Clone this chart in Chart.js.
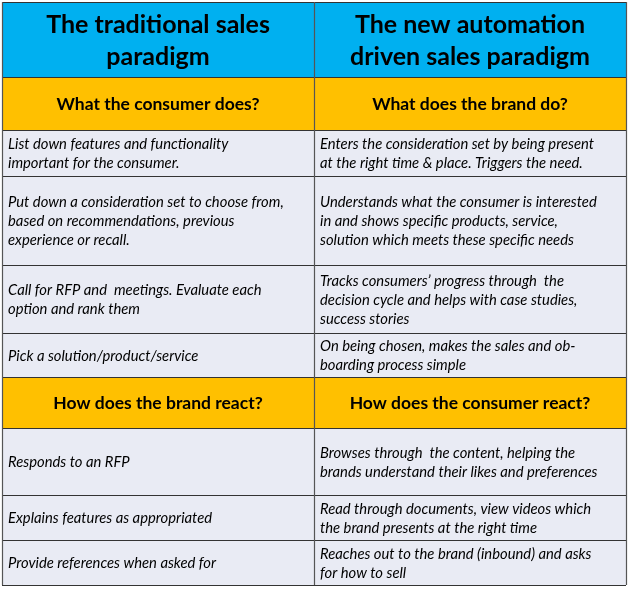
<!DOCTYPE html>
<html><head><meta charset="utf-8">
<script src="https://cdn.jsdelivr.net/npm/chart.js@4/dist/chart.umd.min.js"></script>
<style>html,body{margin:0;padding:0;background:#fff;}canvas{display:block;}</style>
</head><body>
<canvas id="c" width="629" height="592"></canvas>
<script>
// ---- content ----
const titles = [["The traditional sales","paradigm"],["The new automation","driven sales paradigm"]];
const section1 = ["What the consumer does?","What does the brand do?"];
const section2 = ["How does the brand react?","How does the consumer react?"];
const leftCol1 = [
  ["List down features and functionality","important for the consumer."],
  ["Put down a consideration set to choose from,","based on recommendations, previous","experience or recall."],
  ["Call for RFP and  meetings. Evaluate each","option and rank them"],
  ["Pick a solution/product/service"]
];
const rightCol1 = [
  ["Enters the consideration set by being present","at the right time & place. Triggers the need."],
  ["Understands what the consumer is interested","in and shows specific products, service,","solution which meets these specific needs"],
  ["Tracks consumers\u2019 progress through  the","decision cycle and helps with case studies,","success stories"],
  ["On being chosen, makes the sales and ob-","boarding process simple"]
];
const leftCol2 = [["Responds to an RFP"],["Explains features as appropriated"],["Provide references when asked for"]];
const rightCol2 = [
  ["Browses through  the content, helping the","brands understand their likes and preferences"],
  ["Read through documents, view videos which","the brand presents at the right time"],
  ["Reaches out to the brand (inbound) and asks","for how to sell"]
];
// ---- layout (in scale units) ----
const colEdges = [2, 314, 626];
const rowEdges = [2, 77, 130, 176, 265, 333, 377, 428, 495, 540, 585];
const rowKinds = ["title","section1","b","b","b","b","section2","b","b","b"];

const tableCells = [];
{
  let bi = 0;
  const bodyL = leftCol1.concat(leftCol2), bodyR = rightCol1.concat(rightCol2);
  rowKinds.forEach((k, r) => {
    let L, R;
    if (k === "title") { L = titles[0]; R = titles[1]; }
    else if (k === "section1") { L = [section1[0]]; R = [section1[1]]; }
    else if (k === "section2") { L = [section2[0]]; R = [section2[1]]; }
    else { L = bodyL[bi]; R = bodyR[bi]; bi++; }
    tableCells.push({r, c: 0, kind: k, lines: L});
    tableCells.push({r, c: 1, kind: k, lines: R});
  });
}

const styles = {
  title: {fill: "#00B0F0", font: "bold 25px Lato, 'Open Sans', sans-serif", lh: 32, align: "center"},
  section1: {fill: "#FFC000", font: "bold 17.5px Lato, 'Open Sans', sans-serif", lh: 20, align: "center"},
  section2: {fill: "#FFC000", font: "bold 17.5px Lato, 'Open Sans', sans-serif", lh: 20, align: "center"},
  b: {fill: "#E9EBF4", font: "italic 14.8px Lato, 'Open Sans', sans-serif", lh: 19, align: "left"}
};

const tablePlugin = {
  id: "tablePlugin",
  afterDraw(chart) {
    const ctx = chart.ctx, xs = chart.scales.x, ys = chart.scales.y;
    ctx.save();
    tableCells.forEach(cell => {
      const x0 = xs.getPixelForValue(colEdges[cell.c]), x1 = xs.getPixelForValue(colEdges[cell.c + 1]);
      const y0 = ys.getPixelForValue(rowEdges[cell.r]), y1 = ys.getPixelForValue(rowEdges[cell.r + 1]);
      const st = styles[cell.kind];
      ctx.fillStyle = st.fill;
      ctx.fillRect(x0, y0, x1 - x0, y1 - y0);
      ctx.fillStyle = "#000";
      ctx.font = st.font;
      ctx.textBaseline = "middle";
      ctx.textAlign = st.align;
      const n = cell.lines.length, cy = (y0 + y1) / 2;
      cell.lines.forEach((t, i) => {
        const y = cy + (i - (n - 1) / 2) * st.lh;
        const x = st.align === "center" ? (x0 + x1) / 2 : x0 + 6;
        ctx.fillText(t, x, y + 1);
      });
    });
    ctx.strokeStyle = "#333";
    ctx.lineWidth = 1.2;
    rowEdges.forEach(v => {
      const y = Math.round(ys.getPixelForValue(v)) + 0.5;
      ctx.beginPath(); ctx.moveTo(xs.getPixelForValue(colEdges[0]), y); ctx.lineTo(xs.getPixelForValue(colEdges[2]), y); ctx.stroke();
    });
    ctx.strokeStyle = "#555";
    colEdges.forEach(v => {
      const x = Math.round(xs.getPixelForValue(v)) + 0.5;
      ctx.beginPath(); ctx.moveTo(x, ys.getPixelForValue(rowEdges[0])); ctx.lineTo(x, ys.getPixelForValue(rowEdges[rowEdges.length - 1])); ctx.stroke();
    });
    ctx.restore();
  }
};

new Chart(document.getElementById("c"), {
  type: "scatter",
  data: {datasets: [{data: []}]},
  options: {
    responsive: false, animation: false, devicePixelRatio: 1,
    layout: {padding: 0},
    plugins: {legend: {display: false}, tooltip: {enabled: false}},
    scales: {
      x: {type: "linear", min: 0, max: 629, display: false},
      y: {type: "linear", min: 0, max: 592, reverse: true, display: false}
    }
  },
  plugins: [tablePlugin]
});
</script>
</body></html>
